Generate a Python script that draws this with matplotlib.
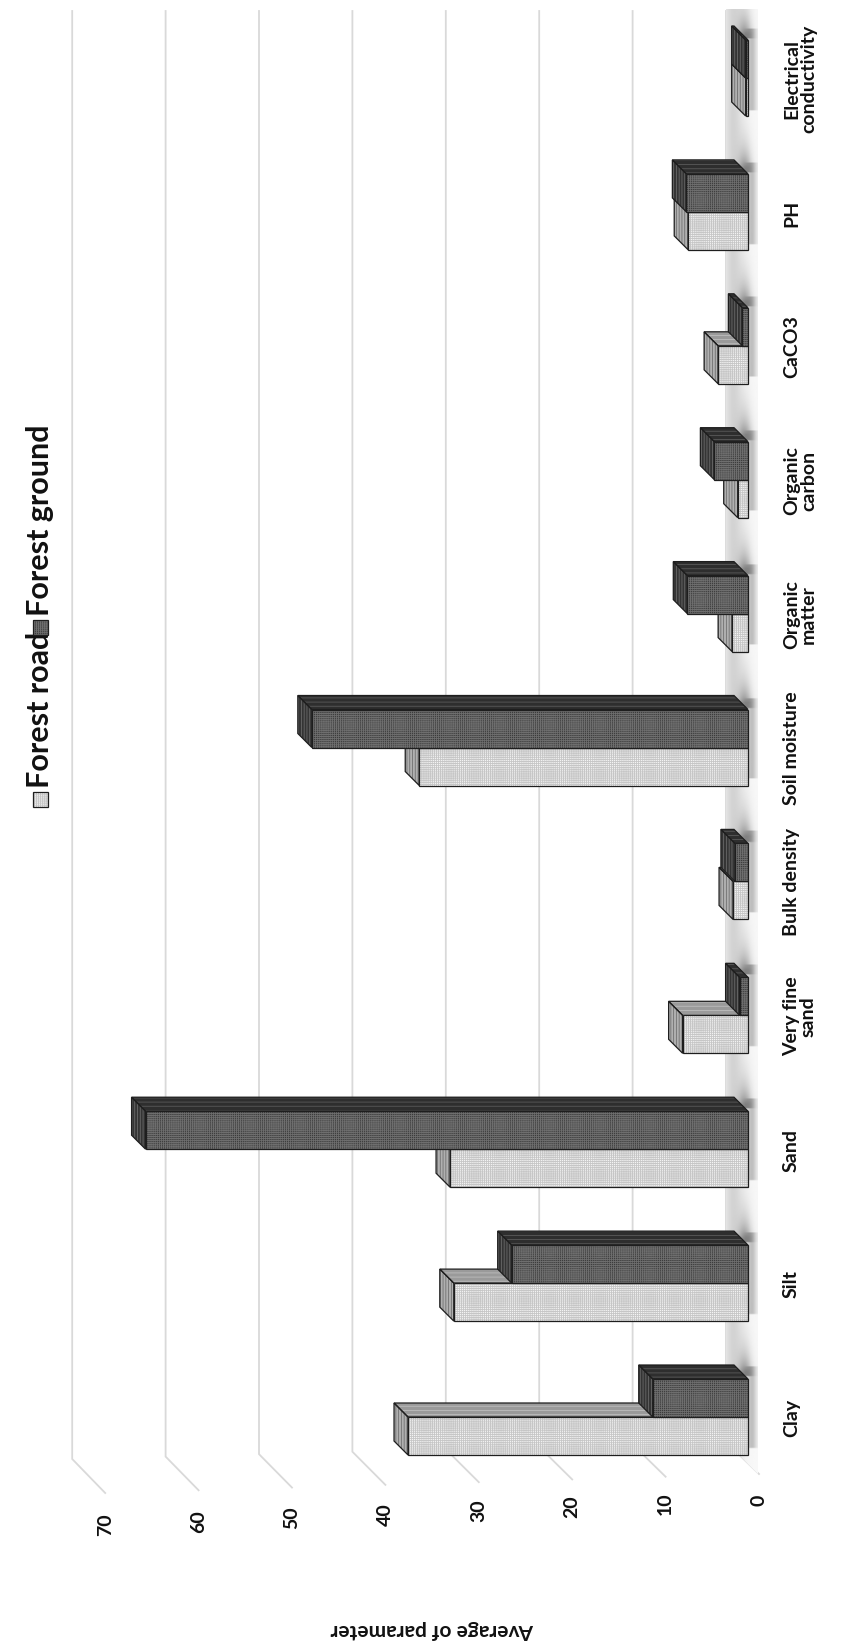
import matplotlib.pyplot as plt
import numpy as np
from matplotlib.patches import Polygon

plt.rcParams['font.family'] = ['Lato', 'DejaVu Sans']
plt.rcParams['font.weight'] = 'bold'
plt.rcParams['hatch.linewidth'] = 0.6

# data
categories = ['Clay', 'Silt', 'Sand', 'Very fine\nsand', 'Bulk density', 'Soil moisture',
              'Organic\nmatter', 'Organic\ncarbon', 'CaCO3', 'PH', 'Electrical\nconductivity']
forest_road = [36.4, 31.5, 31.9, 7.0, 1.6, 35.2, 1.7, 1.1, 3.2, 6.4, 0.25]
forest_ground = [10.2, 25.3, 64.5, 0.9, 1.4, 46.7, 6.5, 3.6, 0.6, 6.6, 0.25]
series_names = ['Forest road', 'Forest ground']
ticks = [0, 10, 20, 30, 40, 50, 60, 70]
ylabel = 'Average of parameter'

# layout (pixels of the 846x1649 picture)
W, H = 846, 1649
PX = 9.34       # px per unit of value
CAT = 133.9     # px per category
X0, Y0 = 748, 1418   # front plane origin (value 0, first category boundary)


def vx(px):
    return (X0 - px) / PX


def cy(py):
    return (Y0 - py) / CAT


fig = plt.figure(figsize=(W / 100, H / 100), dpi=100)
ax = fig.add_axes([0, 0, 1, 1])
ax.set_xlim(vx(0), vx(W))
ax.set_ylim(cy(H), cy(0))
ax.axis('off')

bar_h = 38 / CAT
dv, dc = 14 / PX, 14 / CAT          # bar depth
wall_v = 22 / PX                    # back wall offset
front_v = -11 / PX                  # front of the side wall

# gridlines on back wall + side wall diagonals (slight perspective)
for t in ticks:
    yb = 1443 + 17 * t / 70
    yf = 1475 + 19 * t / 70
    ax.plot([t + wall_v, t + wall_v, t + front_v], [cy(12), cy(yb), cy(yf)],
            color='#d9d9d9', lw=1.3, zorder=1, solid_joinstyle='miter')
    ax.text(t + front_v, cy(1500 + 25 * t / 70), str(t), rotation=90,
            ha='center', va='center', fontsize=14, color='#111111')

# floor with soft shadows
nx, ny = 40, 900
fx = np.linspace(726, 759, nx)
fy = np.linspace(10, 1480, ny)
GX, GY = np.meshgrid(fx, fy)
floor = 0.97 - 0.14 * np.exp(-((GX - 733) / 9) ** 2)
for i in range(len(categories)):
    top = Y0 - CAT * i - bar_h * CAT
    bot = Y0 - CAT * i + bar_h * CAT
    along = (GY > top) & (GY < bot + 5)
    floor -= 0.22 * along * np.exp(-((GX - 752) / 5) ** 2)
    below = np.clip(GY - bot, 0, None)
    floor -= 0.40 * (GY > bot - 5) * np.exp(-below / 18) * np.exp(-((GX - 745) / 7) ** 2)
floor = np.clip(floor, 0, 1)
im = ax.imshow(floor[::-1], cmap='gray', vmin=0, vmax=1, aspect='auto',
               extent=(vx(726), vx(759), cy(1480), cy(10)), zorder=1.5,
               interpolation='bilinear')
clip = Polygon([(vx(726), cy(10)), (vx(726), cy(1443)), (vx(758), cy(1475)),
                (vx(758), cy(10))], closed=True, transform=ax.transData)
im.set_clip_path(clip)

styles = [
    dict(front='#f4f4f4', fh='#c6c6c6', side='#9a9a9a', sh='#bdbdbd', end='#b0b0b0', eh='#707070'),
    dict(front='#3c3c3c', fh='#6e6e6e', side='#2e2e2e', sh='#5a5a5a', end='#343434', eh='#6a6a6a'),
]


def face(pts, fc, hc, hatch, z):
    ax.add_patch(Polygon(pts, closed=True, facecolor=fc, edgecolor=hc, lw=0,
                         hatch=hatch, zorder=z))
    ax.add_patch(Polygon(pts, closed=True, fill=False, edgecolor='#1e1e1e',
                         lw=0.9, zorder=z + 0.01, joinstyle='miter'))


pos = np.arange(len(categories))
for i in pos:
    for s, vals in enumerate([forest_road, forest_ground]):
        st = styles[s]
        v = vals[i]
        b = pos[i] - bar_h if s == 0 else pos[i]
        t = b + bar_h
        z = 3 + s * 0.5
        face([(0, t), (v, t), (v + dv, t + dc), (dv, t + dc)], st['side'], st['sh'], '----', z)
        face([(v, b), (v, t), (v + dv, t + dc), (v + dv, b + dc)], st['end'], st['eh'], '||||||', z)
        ax.barh(b + bar_h / 2, v, height=bar_h, color=st['front'], edgecolor=st['fh'],
                linewidth=0, hatch='+' * 8, zorder=z + 0.2)
        ax.barh(b + bar_h / 2, v, height=bar_h, fill=False, edgecolor='#1e1e1e',
                linewidth=0.9, zorder=z + 0.3)

# category labels
for i, name in enumerate(categories):
    ax.text(vx(783), pos[i], name, rotation=90, ha='left', va='center',
            fontsize=14, color='#111111', linespacing=1.0, multialignment='center')

# legend (rotated with the chart, at the left edge)
lx = 40
for s, name in enumerate(series_names):
    st = styles[s]
    ly = [800, 628][s]
    sq = 15
    pts = [(vx(lx - sq / 2), cy(ly + sq / 2)), (vx(lx + sq / 2), cy(ly + sq / 2)),
           (vx(lx + sq / 2), cy(ly - sq / 2)), (vx(lx - sq / 2), cy(ly - sq / 2))]
    ax.add_patch(Polygon(pts, closed=True, facecolor=st['front'], edgecolor=st['fh'],
                         lw=0, hatch='+' * 8, zorder=3))
    ax.add_patch(Polygon(pts, closed=True, fill=False, edgecolor='#1e1e1e', lw=0.9, zorder=3.1))
    ax.text(vx(lx), cy(ly - 12), name, rotation=90, ha='center', va='bottom',
            fontsize=22, color='#111111')

ax.text(vx(432), cy(1630), ylabel, rotation=180, ha='center', va='center',
        fontsize=15, color='#111111')

fig.savefig('out.png', dpi=100)
